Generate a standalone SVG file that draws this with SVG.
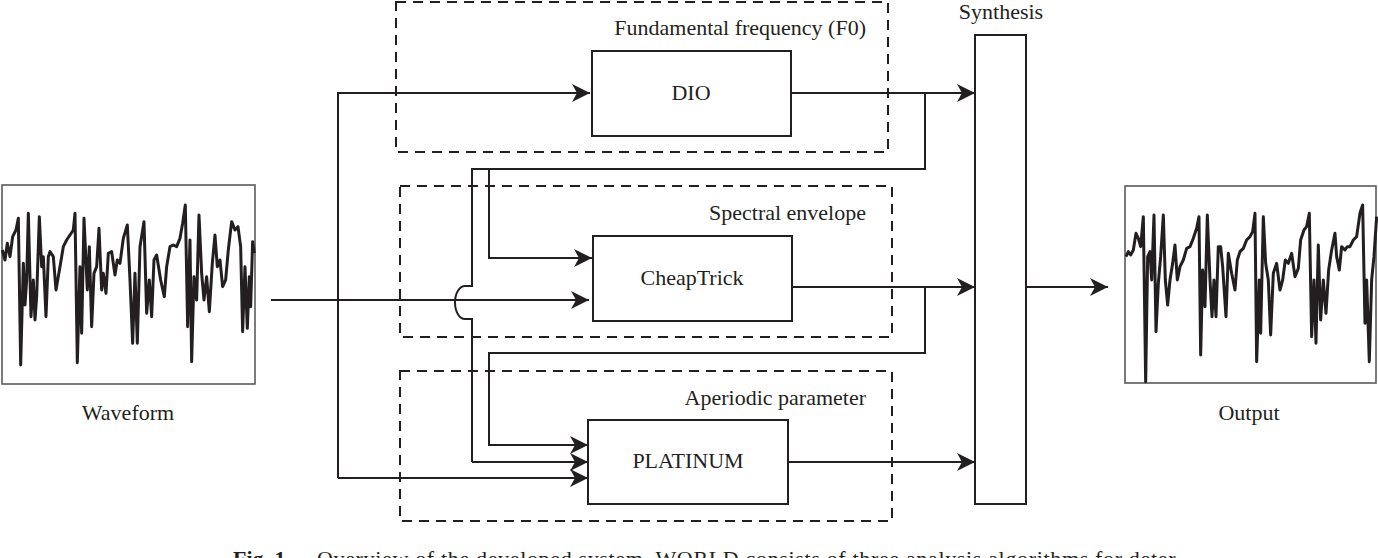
<svg xmlns="http://www.w3.org/2000/svg" width="1378" height="558" viewBox="0 0 1378 558">
<style>
.bg{fill:#fff}
.box{fill:#fff;stroke:#231f20;stroke-width:2}
.grp{fill:none;stroke:#231f20;stroke-width:2;stroke-dasharray:10 7}
.wbox{fill:#fff;stroke:#5a5a5a;stroke-width:1.6}
.wave{fill:none;stroke:#231f20;stroke-width:9;stroke-linejoin:round}
.ln{fill:none;stroke:#231f20;stroke-width:2}
.arr{marker-end:url(#ah)}
text{font-family:"Liberation Serif","Times New Roman",serif;font-size:22px;fill:#231f20}
.c{text-anchor:middle}
.r{text-anchor:end}
</style>
<defs>
<marker id="ah" markerUnits="userSpaceOnUse" markerWidth="18" markerHeight="18" refX="18" refY="9" orient="auto" viewBox="0 0 18 18">
<path d="M0,0 L18,9 L0,18 L5,9 Z" fill="#231f20"/>
</marker>
</defs>
<rect class="bg" x="0" y="0" width="1378" height="558"/>

<g id="group-f0">
<rect class="grp" x="396" y="2" width="492" height="150"/>
<text class="r" x="866" y="35">Fundamental frequency (F0)</text>
</g>
<g id="group-spectral">
<rect class="grp" x="400" y="186" width="492" height="151"/>
<text class="r" x="866" y="220">Spectral envelope</text>
</g>
<g id="group-aperiodic">
<rect class="grp" x="400" y="371" width="492" height="150"/>
<text class="r" x="866" y="405">Aperiodic parameter</text>
</g>

<g id="connectors">
<path class="ln arr" d="M271,300 H589"/>
<path class="ln arr" d="M338,478 V93 H590"/>
<path class="ln arr" d="M338,478 H588"/>
<path class="ln arr" d="M791,93 H975"/>
<path class="ln" d="M925,93 V169 H472 V286 H465 A10,16.5 0 0 0 465,319 H472 V462"/>
<path class="ln arr" d="M472,462 H588"/>
<path class="ln arr" d="M489,169 V258 H592"/>
<path class="ln arr" d="M792,287 H975"/>
<path class="ln arr" d="M925,287 V353 H489 V445 H588"/>
<path class="ln arr" d="M788,462 H975"/>
<path class="ln arr" d="M1026,287 H1108"/>
</g>

<g id="waveform">
<rect class="wbox" x="2" y="185" width="253" height="199"/>
<g transform="translate(0,180) scale(0.3333)">
<polyline class="wave" points="7,210 15,240 22,190 30,230 38,170 48,150 55,115 62,555 70,250 75,375 80,300 85,100 93,410 100,300 105,420 110,350 118,110 125,260 130,230 138,410 145,230 150,215 160,230 168,330 180,260 190,200 200,180 210,165 220,150 225,100 232,548 240,260 245,460 252,115 262,330 268,200 275,440 282,280 290,260 297,145 305,330 310,280 318,340 325,220 335,215 345,285 352,240 360,250 370,175 382,135 390,300 398,490 405,280 412,490 420,200 432,125 440,400 448,300 455,410 462,240 470,225 482,300 493,350 500,260 510,200 520,195 530,200 540,175 548,130 556,75 563,440 570,180 575,545 582,290 590,360 597,105 605,280 612,360 620,290 628,395 637,250 645,165 652,260 660,240 668,320 677,300 685,210 695,125 705,150 714,140 722,200 728,455 735,260 742,445 748,290 752,380 758,185 763,220"/>
</g>
<text class="c" x="128" y="420">Waveform</text>
</g>

<g id="node-dio">
<rect class="box" x="592" y="51" width="199" height="85"/>
<text class="c" x="691" y="100">DIO</text>
</g>
<g id="node-cheaptrick">
<rect class="box" x="593" y="236" width="199" height="85"/>
<text class="c" x="692" y="285">CheapTrick</text>
</g>
<g id="node-platinum">
<rect class="box" x="588" y="420" width="200" height="84"/>
<text class="c" x="688" y="468">PLATINUM</text>
</g>
<g id="node-synthesis">
<rect class="box" x="975" y="35" width="51" height="469"/>
<text class="c" x="1001" y="19">Synthesis</text>
</g>

<g id="output">
<rect class="wbox" x="1125" y="186" width="251" height="197"/>
<g transform="translate(1100,180) scale(0.3333)">
<polyline class="wave" points="78,230 85,215 92,225 100,210 108,160 115,175 122,200 130,110 137,605 143,230 150,215 155,300 162,105 168,455 175,310 182,230 190,105 196,300 203,375 210,300 218,250 225,195 232,300 240,260 250,240 260,205 270,200 280,175 290,145 297,110 302,525 308,270 315,380 322,105 330,300 336,410 342,300 348,410 355,200 362,200 368,260 378,410 385,220 395,280 405,330 412,240 420,215 430,205 440,180 450,170 458,155 465,100 470,545 478,300 482,460 490,110 497,250 505,300 512,465 520,280 530,250 540,330 548,300 556,240 565,250 575,220 585,290 595,265 602,180 612,150 620,140 628,100 635,470 642,300 648,490 655,195 662,420 670,300 678,400 686,270 695,210 705,160 710,230 718,270 725,200 735,210 742,200 750,200 760,180 770,170 780,100 788,75 795,430 800,300 808,545 815,300 822,230 830,110"/>
</g>
<text class="c" x="1249" y="420">Output</text>
</g>

<g id="caption">
<text x="233" y="566" font-size="21" font-weight="bold">Fig. 1</text>
<text x="317" y="566" font-size="21" textLength="866" lengthAdjust="spacing">Overview of the developed system. WORLD consists of three analysis algorithms for deter-</text>
</g>
</svg>
